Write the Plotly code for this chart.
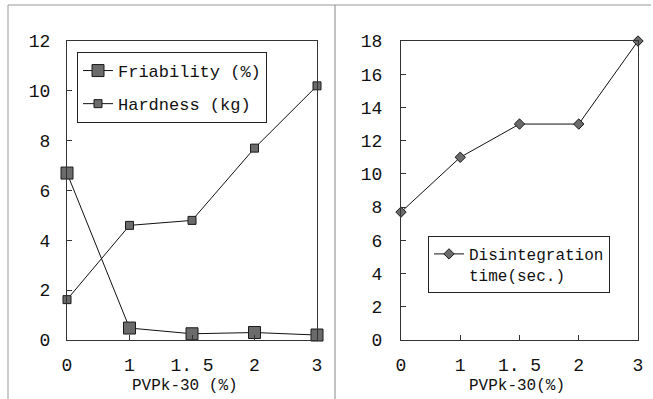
import plotly.graph_objects as go

# ---- data ----
pvp_levels = ["0", "1", "1. 5", "2", "3"]
friability = [6.7, 0.48, 0.25, 0.3, 0.2]
hardness = [1.62, 4.6, 4.8, 7.7, 10.2]
disintegration = [7.7, 11.0, 13.0, 13.0, 18.0]
y1_ticks = [0, 2, 4, 6, 8, 10, 12]
y2_ticks = [0, 2, 4, 6, 8, 10, 12, 14, 16, 18]

W, H = 653, 399
MONO = "Liberation Mono"
FILL = "#6b6b6b"
EDGE = "#1a1a1a"

def px_x(p):
    return p / W

def px_y(p):
    return 1 - p / H

fig = go.Figure()

fig.add_trace(go.Scatter(
    x=pvp_levels, y=friability, mode="lines+markers", name="Friability (%)",
    line=dict(color="#111111", width=1),
    marker=dict(symbol="square", size=12, color=FILL, line=dict(color=EDGE, width=1)),
    xaxis="x", yaxis="y", legend="legend", legendgroup="a", cliponaxis=False))
fig.add_trace(go.Scatter(
    x=pvp_levels, y=hardness, mode="lines+markers", name="Hardness (kg)",
    line=dict(color="#111111", width=1),
    marker=dict(symbol="square", size=8, color=FILL, line=dict(color=EDGE, width=1)),
    xaxis="x", yaxis="y", legend="legend", legendgroup="b", cliponaxis=False))
fig.add_trace(go.Scatter(
    x=pvp_levels, y=disintegration, mode="lines+markers",
    name="Disintegration<br>time(sec.)",
    line=dict(color="#111111", width=1),
    marker=dict(symbol="diamond", size=8, color=FILL, line=dict(color=EDGE, width=1)),
    xaxis="x2", yaxis="y2", legend="legend2", cliponaxis=False))

axis_common = dict(
    showgrid=False, zeroline=False, showline=True, mirror=True, automargin=False,
    linecolor="#333333", linewidth=1, ticks="inside", ticklen=5,
    tickcolor="#333333", tickfont=dict(family=MONO, size=18, color="#111111"),
)

x_dom1 = [px_x(67), px_x(317)]
x_dom2 = [px_x(401), px_x(638)]
y_dom = [px_y(340), px_y(41)]

fig.update_layout(
    template="none",
    width=W, height=H,
    margin=dict(l=0, r=0, t=0, b=0, pad=0),
    paper_bgcolor="white", plot_bgcolor="white",
    showlegend=True,
    xaxis=dict(domain=x_dom1, anchor="y", type="category", range=[0, 4],
               ticklabelstandoff=8, **axis_common),
    yaxis=dict(domain=y_dom, anchor="x", range=[0, 12], tickvals=y1_ticks,
               ticklabelstandoff=12, **axis_common),
    xaxis2=dict(domain=x_dom2, anchor="y2", type="category", range=[0, 4],
                ticklabelstandoff=8, **axis_common),
    yaxis2=dict(domain=y_dom, anchor="x2", range=[0, 18], tickvals=y2_ticks,
                ticklabelstandoff=14, **axis_common),
    legend=dict(x=px_x(77), y=px_y(52), xanchor="left", yanchor="top",
                bgcolor="white", bordercolor="#222222", borderwidth=1,
                font=dict(family=MONO, size=17, color="#111111"),
                tracegroupgap=8, itemwidth=30),
    legend2=dict(x=px_x(428), y=px_y(236), xanchor="left", yanchor="top",
                 bgcolor="white", bordercolor="#222222", borderwidth=1,
                 font=dict(family=MONO, size=16, color="#111111"),
                 valign="top", itemwidth=30),
    annotations=[
        dict(text="PVPk-30 (%)", x=px_x(185), y=px_y(386), xref="paper", yref="paper",
             xanchor="center", yanchor="middle",
             showarrow=False, font=dict(family=MONO, size=16, color="#111111")),
        dict(text="PVPk-30(%)", x=px_x(517), y=px_y(386), xref="paper", yref="paper",
             xanchor="center", yanchor="middle",
             showarrow=False, font=dict(family=MONO, size=16, color="#111111")),
    ],
    shapes=[
        dict(type="line", xref="paper", yref="paper", x0=px_x(8), x1=px_x(651),
             y0=px_y(5), y1=px_y(5), line=dict(color="#999999", width=1)),
        dict(type="line", xref="paper", yref="paper", x0=px_x(8), x1=px_x(8),
             y0=px_y(5), y1=px_y(399), line=dict(color="#999999", width=1)),
        dict(type="line", xref="paper", yref="paper", x0=px_x(335), x1=px_x(335),
             y0=px_y(5), y1=px_y(399), line=dict(color="#888888", width=1)),
    ],
)

fig.write_html(
    "out.html",
    config={"displayModeBar": False},
    post_script="document.body.style.margin='0';document.body.style.overflow='hidden';",
)
